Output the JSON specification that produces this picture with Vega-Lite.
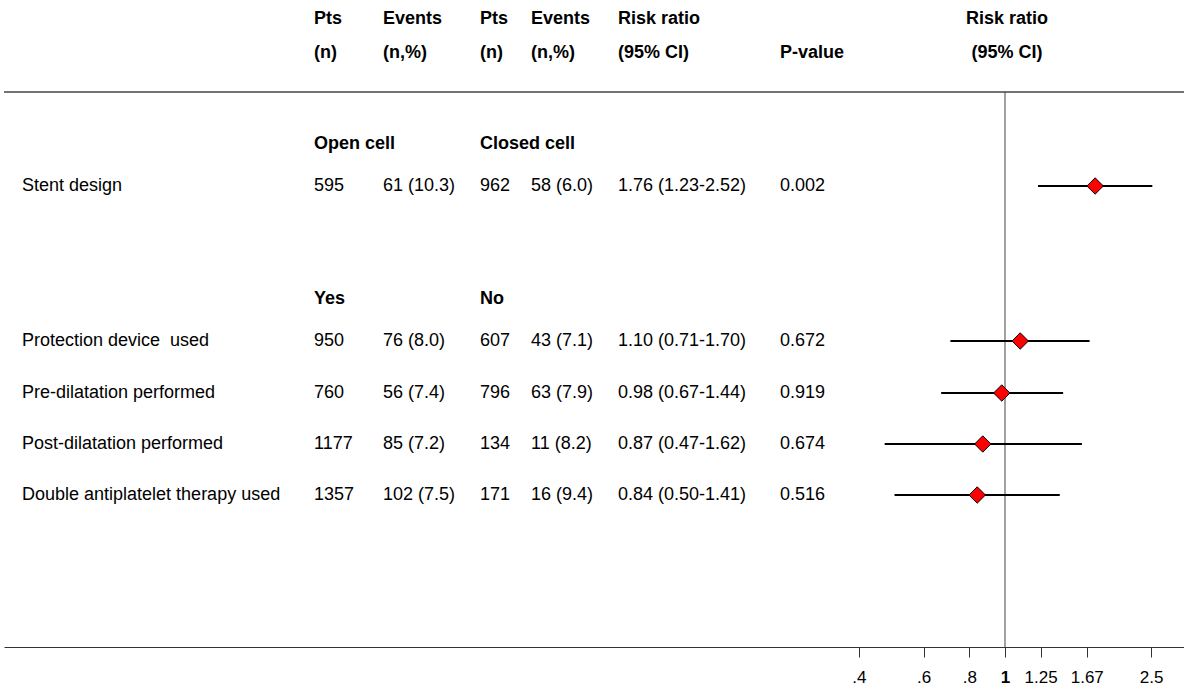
{
  "$schema": "https://vega.github.io/schema/vega-lite/v6.json",
  "width": 1180,
  "height": 647,
  "autosize": {"type": "none"},
  "padding": {"left": 4, "top": 0, "right": 0, "bottom": 40},
  "background": "white",
  "config": {"view": {"stroke": null}, "font": "Liberation Sans"},
  "datasets": {
    "cells": [
      {"row": 0, "col": 1, "label": "Pts", "kind": "header"},
      {"row": 0, "col": 2, "label": "Events", "kind": "header"},
      {"row": 0, "col": 3, "label": "Pts", "kind": "header"},
      {"row": 0, "col": 4, "label": "Events", "kind": "header"},
      {"row": 0, "col": 5, "label": "Risk ratio", "kind": "header"},
      {"row": 1, "col": 1, "label": "(n)", "kind": "header"},
      {"row": 1, "col": 2, "label": "(n,%)", "kind": "header"},
      {"row": 1, "col": 3, "label": "(n)", "kind": "header"},
      {"row": 1, "col": 4, "label": "(n,%)", "kind": "header"},
      {"row": 1, "col": 5, "label": "\u2005(95% CI)", "kind": "header"},
      {"row": 1, "col": 6, "label": "P-value", "kind": "header"},
      {"row": 3, "col": 1, "label": "Open cell", "kind": "group"},
      {"row": 3, "col": 3, "label": "Closed cell", "kind": "group"},
      {"row": 4, "col": 0, "label": "Stent design", "kind": "value"},
      {"row": 4, "col": 1, "label": "595", "kind": "value"},
      {"row": 4, "col": 2, "label": "61 (10.3)", "kind": "value"},
      {"row": 4, "col": 3, "label": "962", "kind": "value"},
      {"row": 4, "col": 4, "label": "58 (6.0)", "kind": "value"},
      {"row": 4, "col": 5, "label": "1.76 (1.23-2.52)", "kind": "value"},
      {"row": 4, "col": 6, "label": "0.002", "kind": "value"},
      {"row": 5, "col": 1, "label": "Yes", "kind": "group"},
      {"row": 5, "col": 3, "label": "No", "kind": "group"},
      {"row": 6, "col": 0, "label": "Protection device\u00a0 used", "kind": "value"},
      {"row": 6, "col": 1, "label": "950", "kind": "value"},
      {"row": 6, "col": 2, "label": "76 (8.0)", "kind": "value"},
      {"row": 6, "col": 3, "label": "607", "kind": "value"},
      {"row": 6, "col": 4, "label": "43 (7.1)", "kind": "value"},
      {"row": 6, "col": 5, "label": "1.10 (0.71-1.70)", "kind": "value"},
      {"row": 6, "col": 6, "label": "0.672", "kind": "value"},
      {"row": 7, "col": 0, "label": "Pre-dilatation performed", "kind": "value"},
      {"row": 7, "col": 1, "label": "760", "kind": "value"},
      {"row": 7, "col": 2, "label": "56 (7.4)", "kind": "value"},
      {"row": 7, "col": 3, "label": "796", "kind": "value"},
      {"row": 7, "col": 4, "label": "63 (7.9)", "kind": "value"},
      {"row": 7, "col": 5, "label": "0.98 (0.67-1.44)", "kind": "value"},
      {"row": 7, "col": 6, "label": "0.919", "kind": "value"},
      {"row": 8, "col": 0, "label": "Post-dilatation performed", "kind": "value"},
      {"row": 8, "col": 1, "label": "1177", "kind": "value"},
      {"row": 8, "col": 2, "label": "85 (7.2)", "kind": "value"},
      {"row": 8, "col": 3, "label": "134", "kind": "value"},
      {"row": 8, "col": 4, "label": "11 (8.2)", "kind": "value"},
      {"row": 8, "col": 5, "label": "0.87 (0.47-1.62)", "kind": "value"},
      {"row": 8, "col": 6, "label": "0.674", "kind": "value"},
      {"row": 9, "col": 0, "label": "Double antiplatelet therapy used", "kind": "value"},
      {"row": 9, "col": 1, "label": "1357", "kind": "value"},
      {"row": 9, "col": 2, "label": "102 (7.5)", "kind": "value"},
      {"row": 9, "col": 3, "label": "171", "kind": "value"},
      {"row": 9, "col": 4, "label": "16 (9.4)", "kind": "value"},
      {"row": 9, "col": 5, "label": "0.84 (0.50-1.41)", "kind": "value"},
      {"row": 9, "col": 6, "label": "0.516", "kind": "value"}
    ],
    "est": [
      {"row": 4, "name": "Stent design", "rr": 1.76, "lo": 1.23, "hi": 2.52},
      {"row": 6, "name": "Protection device used", "rr": 1.10, "lo": 0.71, "hi": 1.70},
      {"row": 7, "name": "Pre-dilatation performed", "rr": 0.98, "lo": 0.67, "hi": 1.44},
      {"row": 8, "name": "Post-dilatation performed", "rr": 0.87, "lo": 0.47, "hi": 1.62},
      {"row": 9, "name": "Double antiplatelet therapy used", "rr": 0.84, "lo": 0.50, "hi": 1.41}
    ],
    "rightHeader": [
      {"row": 0, "label": "Risk ratio", "ref": 1},
      {"row": 1, "label": "(95% CI)", "ref": 1}
    ],
    "refLine": [
      {"ref": 1, "top": 2, "bottom": 10}
    ]
  },
  "layer": [
    {
      "data": {"name": "cells"},
      "transform": [{"filter": "datum.kind === 'value'"}],
      "mark": {"type": "text", "align": "left", "baseline": "middle", "fontSize": 18, "font": "Liberation Sans", "color": "black"},
      "encoding": {
        "x": {"field": "col", "type": "quantitative", "scale": {"domain": [0, 1, 2, 3, 4, 5, 6], "range": [18, 310, 379, 476, 527, 614, 776], "nice": false, "zero": false}, "axis": null},
        "y": {"field": "row", "type": "quantitative", "scale": {"domain": [0, 1, 2, 3, 4, 5, 6, 7, 8, 9, 10], "range": [19, 53, 92, 144, 186, 299, 341, 393, 444, 495, 647], "nice": false, "zero": false}, "axis": null},
        "text": {"field": "label"}
      }
    },
    {
      "data": {"name": "cells"},
      "transform": [{"filter": "datum.kind !== 'value'"}],
      "mark": {"type": "text", "align": "left", "baseline": "middle", "fontSize": 18, "fontWeight": "bold", "font": "Liberation Sans", "color": "black"},
      "encoding": {
        "x": {"field": "col", "type": "quantitative", "scale": {"domain": [0, 1, 2, 3, 4, 5, 6], "range": [18, 310, 379, 476, 527, 614, 776], "nice": false, "zero": false}, "axis": null},
        "y": {"field": "row", "type": "quantitative", "axis": null},
        "text": {"field": "label"}
      }
    },
    {
      "layer": [
        {
          "data": {"name": "refLine"},
          "mark": {"type": "rule", "color": "#444444", "strokeWidth": 1},
          "encoding": {
            "x": {"field": "ref", "type": "quantitative", "scale": {"type": "log", "domain": [0.001873, 3.074], "nice": false}, "axis": {"values": [0.4, 0.6, 0.8, 1, 1.25, 1.67, 2.5], "format": ".3~f", "labelExpr": "datum.value < 1 ? slice(datum.label, 1) : datum.label", "title": null, "grid": false, "domainColor": "#333333", "domainWidth": 1, "tickColor": "#333333", "tickSize": 10, "tickWidth": 1, "labelFontSize": 17, "labelFont": "Liberation Sans", "labelColor": "black", "labelPadding": 12, "labelFlush": false, "labelOverlap": false, "labelFontWeight": {"expr": "datum.value == 1 ? 'bold' : 'normal'"}}},
            "y": {"field": "top", "type": "quantitative", "axis": null},
            "y2": {"field": "bottom"}
          }
        },
        {
          "data": {"name": "refLine"},
          "mark": {"type": "rule", "color": "#444444", "strokeWidth": 1.5},
          "encoding": {
            "y": {"field": "top", "type": "quantitative", "axis": null}
          }
        },
        {
          "data": {"name": "est"},
          "mark": {"type": "rule", "color": "black", "strokeWidth": 2},
          "encoding": {
            "x": {"field": "lo", "type": "quantitative"},
            "x2": {"field": "hi"},
            "y": {"field": "row", "type": "quantitative", "axis": null}
          }
        },
        {
          "data": {"name": "est"},
          "mark": {"type": "point", "shape": "diamond", "filled": true, "fill": "#ff0000", "stroke": "black", "strokeWidth": 1, "size": 270, "opacity": 1},
          "encoding": {
            "x": {"field": "rr", "type": "quantitative"},
            "y": {"field": "row", "type": "quantitative", "axis": null}
          }
        },
        {
          "data": {"name": "rightHeader"},
          "mark": {"type": "text", "align": "center", "baseline": "middle", "fontSize": 18, "fontWeight": "bold", "font": "Liberation Sans", "color": "black", "dx": 2},
          "encoding": {
            "x": {"field": "ref", "type": "quantitative"},
            "y": {"field": "row", "type": "quantitative", "axis": null},
            "text": {"field": "label"}
          }
        }
      ]
    }
  ],
  "resolve": {"scale": {"x": "independent"}}
}
